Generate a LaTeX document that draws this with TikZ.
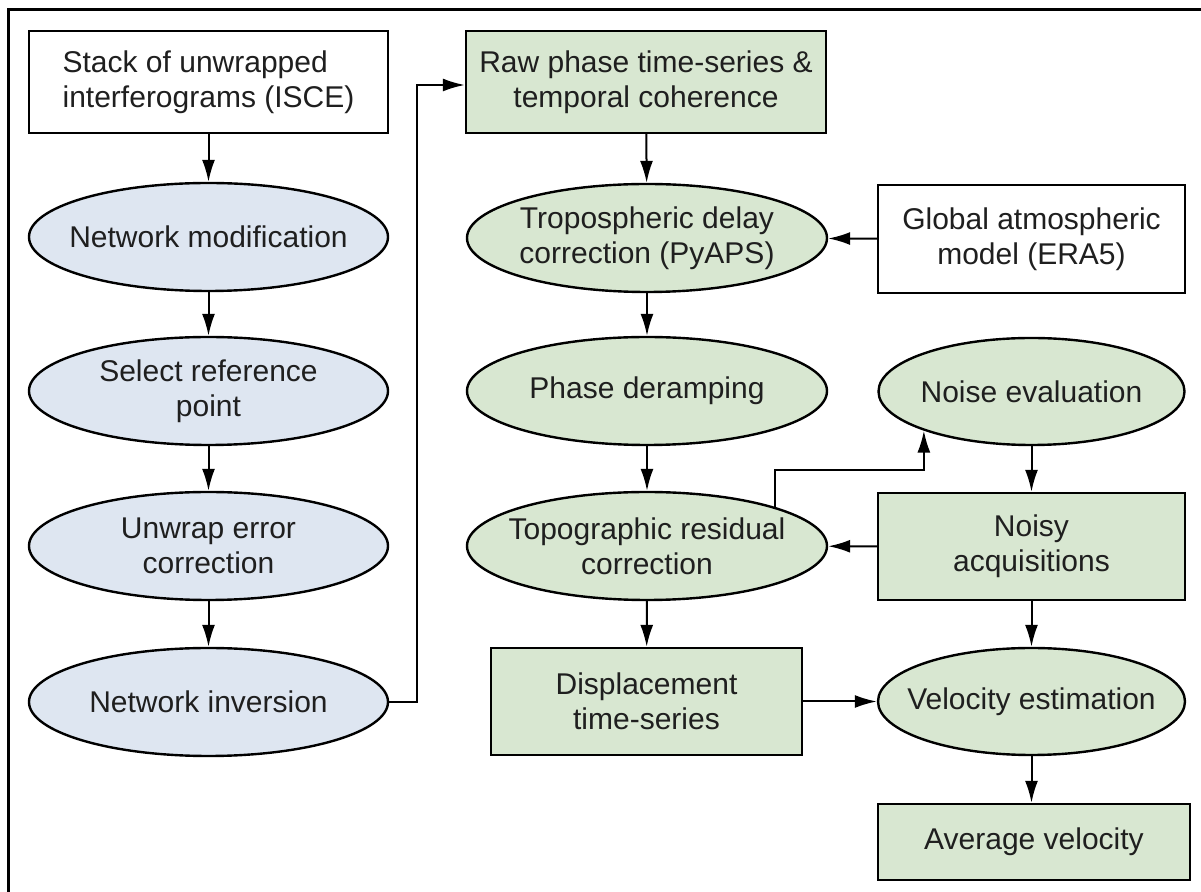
\documentclass[tikz,border=0pt]{standalone}
\usepackage{fontspec}
\setmainfont{Liberation Sans}
\usetikzlibrary{shapes.geometric,arrows.meta}
\definecolor{procblue}{HTML}{DEE6F1}
\definecolor{procgreen}{HTML}{D8E7D1}

\begin{document}
\begin{tikzpicture}[x=0.5pt, y=-0.5pt,
	every node/.style={font=\fontsize{15}{17.5}\selectfont, align=center, inner sep=0pt, text=black!88},
	iobox/.style={draw, line width=1.2pt, fill=white},
	gbox/.style={draw, line width=1.2pt, fill=procgreen},
	proc/.style={draw, ellipse, line width=1.2pt, inner xsep=-25pt},
	flow/.style={-{Latex[length=11pt,width=6.5pt]}, line width=1pt}]
	\useasboundingbox (0,0) rectangle (1201,892);
	\draw[line width=1.5pt] (8,892) -- (8,10) -- (1201,10);

	% left column
	\node[iobox, align=left, minimum width=179.5pt, minimum height=51pt] (stack) at (208.5,82) {Stack of unwrapped\\interferograms (ISCE)};
	\node[proc, fill=procblue, minimum width=179.5pt, minimum height=54pt] (netmod) at (208.5,237) {Network modification};
	\node[proc, fill=procblue, minimum width=179.5pt, minimum height=54pt] (refpt) at (208.5,391) {Select reference\\point};
	\node[proc, fill=procblue, minimum width=179.5pt, minimum height=54pt] (unwrap) at (208.5,546) {Unwrap error\\correction};
	\node[proc, fill=procblue, minimum width=179.5pt, minimum height=54pt] (netinv) at (208.5,702) {Network inversion};

	% middle column
	\node[gbox, minimum width=180pt, minimum height=51pt] (raw) at (646,82) {Raw phase time-series \&\\temporal coherence};
	\node[proc, fill=procgreen, minimum width=180pt, minimum height=54pt] (tropo) at (647,238) {Tropospheric delay\\correction (PyAPS)};
	\node[proc, fill=procgreen, minimum width=180pt, minimum height=54pt] (deramp) at (647,391) {Phase deramping};
	\node[proc, fill=procgreen, minimum width=180pt, minimum height=54pt] (topo) at (647,546) {Topographic residual\\correction};
	\node[gbox, minimum width=155.5pt, minimum height=53.5pt] (disp) at (646.5,701.5) {Displacement\\time-series};

	% right column
	\node[iobox, minimum width=153.5pt, minimum height=54pt] (era) at (1031.5,239) {Global atmospheric\\model (ERA5)};
	\node[proc, fill=procgreen, minimum width=153pt, minimum height=53.5pt] (noise) at (1031.5,391.5) {Noise evaluation};
	\node[gbox, minimum width=153.5pt, minimum height=53.5pt] (noisy) at (1031.5,546.5) {Noisy\\acquisitions};
	\node[proc, fill=procgreen, minimum width=153.5pt, minimum height=53.5pt] (velo) at (1031.5,701.5) {Velocity estimation};
	\node[gbox, minimum width=156pt, minimum height=38pt] (avg) at (1034,842) {Average velocity};

	\draw[flow] (stack) -- (netmod);
	\draw[flow] (netmod) -- (refpt);
	\draw[flow] (refpt) -- (unwrap);
	\draw[flow] (unwrap) -- (netinv);
	\draw[flow] (netinv.east) -- ++(28,0) |- ([yshift=-1.5pt]raw.west);

	\draw[flow] (raw) -- (tropo);
	\draw[flow] (era) -- (tropo);
	\draw[flow] (tropo) -- (deramp);
	\draw[flow] (deramp) -- (topo);
	\draw[flow] (topo) -- (disp);
	\draw[flow] (topo.17) |- ([yshift=-19.5pt]noise.200) -- (noise.200);
	\draw[flow] (noise) -- (noisy);
	\draw[flow] (noisy) -- (topo);
	\draw[flow] (noisy) -- (velo);
	\draw[flow] (disp) -- (velo);
	\draw[flow] (velo) -- (velo |- avg.north);
\end{tikzpicture}
\end{document}
